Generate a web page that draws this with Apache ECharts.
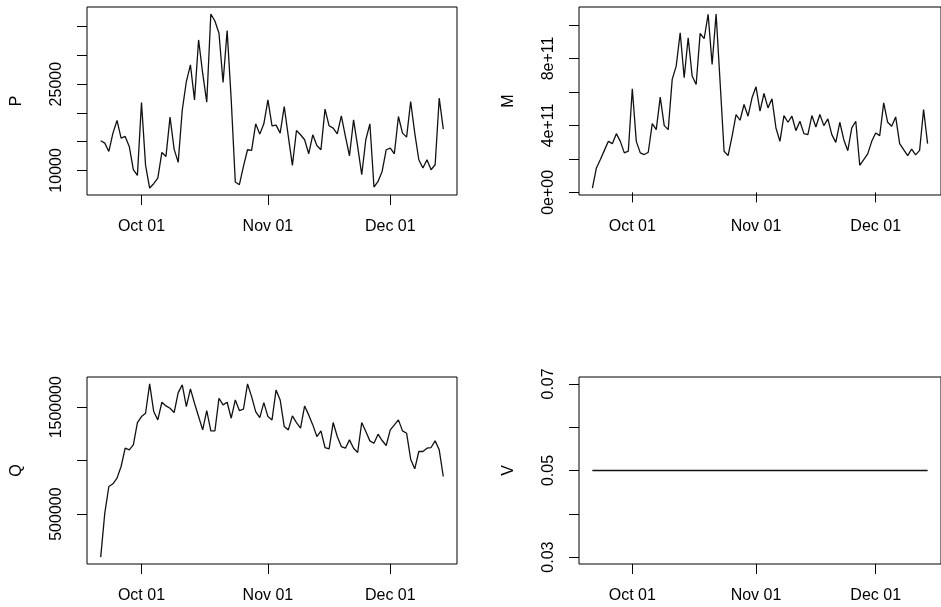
<!DOCTYPE html>
<html><head><meta charset="utf-8">
<script src="https://cdn.jsdelivr.net/npm/echarts@6/dist/echarts.min.js"></script>
<style>html,body{margin:0;padding:0;background:#fff;}#chart{width:941px;height:607px;}</style>
</head><body><div id="chart"></div>
<script>
// ---- data ----
const startDate = '2013-09-21';
const nDays = 85;
const P = [15153,14748,13300,16485,18685,15616,15906,14169,10116,9132,
  21812,10869,6931,7684,8668,13127,12432,19264,13706,11390,
  20538,25459,28354,22275,32697,26907,21870,37213,35997,33855,
  25286,34318,22275,7974,7510,10695,13590,13474,18106,16311,
  18106,22275,17759,17874,16485,21117,15906,10869,16948,16195,
  15327,12895,16195,14343,13590,20654,17759,17353,16369,19496,
  15906,12548,18801,14169,9247,15327,18106,7105,8089,9826,
  13590,13879,12895,19380,16485,15790,21985,16485,11853,10405,
  11853,10116,10984,22564,17180];
const M = [0.26e11,1.46e11,1.96e11,2.51e11,3.05e11,2.91e11,3.51e11,3.05e11,2.36e11,2.46e11,
  6.19e11,3.05e11,2.36e11,2.26e11,2.40e11,4.11e11,3.75e11,5.69e11,3.99e11,3.75e11,
  6.75e11,7.54e11,9.54e11,6.85e11,9.24e11,6.95e11,6.45e11,9.50e11,9.18e11,10.64e11,
  7.64e11,10.66e11,6.60e11,2.46e11,2.20e11,3.35e11,4.65e11,4.31e11,5.25e11,4.55e11,
  5.65e11,6.31e11,4.85e11,5.91e11,5.05e11,5.59e11,3.85e11,3.05e11,4.59e11,4.19e11,
  4.55e11,3.69e11,4.25e11,3.51e11,3.45e11,4.59e11,3.91e11,4.65e11,3.99e11,4.39e11,
  3.45e11,2.99e11,4.19e11,3.15e11,2.49e11,3.85e11,4.25e11,1.62e11,1.96e11,2.30e11,
  3.05e11,3.55e11,3.39e11,5.35e11,4.19e11,3.95e11,4.51e11,2.91e11,2.55e11,2.20e11,
  2.59e11,2.24e11,2.51e11,4.95e11,2.91e11];
const Q = [98165,509345,758545,783465,836420,945445,1116770,1101195,1147920,1356625,
  1412695,1443845,1717965,1459420,1381545,1546640,1512375,1490570,1450075,1636975,
  1708620,1506145,1671240,1537295,1412695,1288095,1468765,1278750,1278750,1584020,
  1521720,1546640,1397120,1568445,1468765,1481225,1717965,1599595,1459420,1403350,
  1543525,1412695,1381545,1661895,1568445,1319245,1288095,1418925,1356625,1303670,
  1512375,1428270,1334820,1225795,1278750,1123000,1110540,1356625,1225795,1132345,
  1116770,1194645,1116770,1076275,1356625,1272520,1185300,1163495,1247600,1188415,
  1141690,1288095,1334820,1381545,1278750,1256945,1013975,923640,1085620,1085620,
  1116770,1123000,1185300,1101195,851995];
const V = [0.05,0.05,0.05,0.05,0.05,0.05,0.05,0.05,0.05,0.05,
  0.05,0.05,0.05,0.05,0.05,0.05,0.05,0.05,0.05,0.05,
  0.05,0.05,0.05,0.05,0.05,0.05,0.05,0.05,0.05,0.05,
  0.05,0.05,0.05,0.05,0.05,0.05,0.05,0.05,0.05,0.05,
  0.05,0.05,0.05,0.05,0.05,0.05,0.05,0.05,0.05,0.05,
  0.05,0.05,0.05,0.05,0.05,0.05,0.05,0.05,0.05,0.05,
  0.05,0.05,0.05,0.05,0.05,0.05,0.05,0.05,0.05,0.05,
  0.05,0.05,0.05,0.05,0.05,0.05,0.05,0.05,0.05,0.05,
  0.05,0.05,0.05,0.05,0.05];
const xTickDates = ['2013-10-01','2013-11-01','2013-12-01'];
const xTickLabels = ['Oct 01','Nov 01','Dec 01'];
const pTicks = [10000,15000,20000,25000,30000,35000];
const pLabels = [10000,25000];
const mTicks = [0,2e11,4e11,6e11,8e11,10e11];
const mLabels = [0,4e11,8e11];
const qTicks = [500000,1000000,1500000];
const qLabels = [500000,1500000];
const vTicks = [0.03,0.04,0.05,0.06,0.07];
const vLabels = [0.03,0.05,0.07];

// ---- build ----
const DAY = 86400000;
const t0 = Date.parse(startDate + 'T00:00:00Z');
const times = [];
for (let i = 0; i < nDays; i++) times.push(t0 + i * DAY);
const xTickTimes = xTickDates.map(d => Date.parse(d + 'T00:00:00Z'));

function rRange(vals) {
  let lo = Math.min(...vals), hi = Math.max(...vals);
  if (lo === hi) { lo = lo * 0.6; hi = hi * 1.4; }
  const e = (hi - lo) * 0.04;
  return [lo - e, hi + e];
}
const xr = rRange(times);
const FONT = "'Liberation Sans', Arial, Helvetica, sans-serif";

const grids = [
  {left: 87, top: 7, width: 370, height: 188},
  {left: 579, top: 7, width: 370, height: 188},
  {left: 87, top: 377, width: 370, height: 187},
  {left: 579, top: 377, width: 370, height: 187}
].map(g => Object.assign({show: true, borderColor: '#000', borderWidth: 1, backgroundColor: 'transparent'}, g));

const xAxes = [0,1,2,3].map(gi => ({
  type: 'value', gridIndex: gi, min: xr[0], max: xr[1],
  axisLine: {show: false}, splitLine: {show: false},
  axisTick: {show: true, customValues: xTickTimes, length: 10, lineStyle: {color: '#000', width: 1}},
  axisLabel: {customValues: xTickTimes, margin: 24, fontSize: 16, color: '#000', fontFamily: FONT,
    formatter: v => xTickLabels[xTickTimes.indexOf(v)] || ''}
}));

function yAxis(gi, name, vals, ticks, labels, fmt) {
  const r = rRange(vals);
  return {
    type: 'value', gridIndex: gi, min: r[0], max: r[1],
    name: name, nameLocation: 'middle', nameRotate: 90, nameGap: 62,
    nameTextStyle: {fontSize: 16, color: '#000', fontFamily: FONT},
    axisLine: {show: false}, splitLine: {show: false},
    axisTick: {show: true, customValues: ticks, length: 10, lineStyle: {color: '#000', width: 1}},
    axisLabel: {customValues: labels, rotate: 90, margin: 22, fontSize: 16, color: '#000', fontFamily: FONT, formatter: fmt}
  };
}
const yAxes = [
  yAxis(0, 'P', P, pTicks, pLabels, v => String(Math.round(v))),
  yAxis(1, 'M', M, mTicks, mLabels, v => v === 0 ? '0e+00' : Math.round(v / 1e11) + 'e+11'),
  yAxis(2, 'Q', Q, qTicks, qLabels, v => String(Math.round(v))),
  yAxis(3, 'V', V, vTicks, vLabels, v => v.toFixed(2))
];

function line(gi, vals) {
  return {
    type: 'line', xAxisIndex: gi, yAxisIndex: gi, showSymbol: false, symbol: 'none',
    data: vals.map((v, i) => [times[i], v]),
    lineStyle: {color: '#111', width: 1.3}, silent: true
  };
}

const chart = echarts.init(document.getElementById('chart'), null, {renderer: 'canvas'});
chart.setOption({
  animation: false,
  backgroundColor: '#fff',
  grid: grids, xAxis: xAxes, yAxis: yAxes,
  series: [line(0, P), line(1, M), line(2, Q), line(3, V)]
});
</script>
</body></html>
